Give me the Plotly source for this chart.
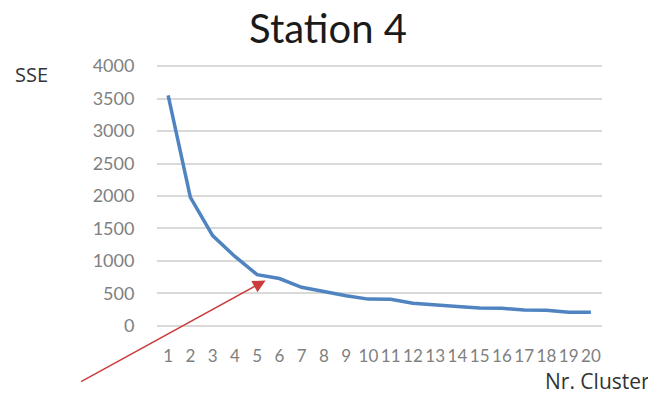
import plotly.graph_objects as go

clusters = [str(i) for i in range(1, 21)]
sse = [3550, 1980, 1390, 1070, 790, 730, 595, 525, 465, 413,
       410, 350, 320, 300, 275, 272, 245, 242, 212, 210]
y_ticks = [0, 500, 1000, 1500, 2000, 2500, 3000, 3500, 4000]

fig = go.Figure()
fig.add_trace(go.Scatter(
    x=clusters, y=sse, mode="lines",
    line=dict(color="#4f84c0", width=3.5),
    showlegend=False,
))

# the page body adds an 8px offset, so the figure is 8px smaller than the window
fig.update_layout(
    template="none",
    width=648, height=386,
    margin=dict(l=149, r=54, t=57, b=67, autoexpand=False),
    paper_bgcolor="white", plot_bgcolor="white",
    font=dict(family="Lato, Open Sans, sans-serif", color="#808080"),
    title=dict(text="Station 4", x=320 / 648, xanchor="center", xref="container",
               y=1 - 21 / 386, yref="container", yanchor="middle",
               font=dict(size=40, color="#1a1a1a", family="Lato, Open Sans, sans-serif")),
)
fig.update_xaxes(
    type="category", range=[-0.5, 19.5], autorange=False,
    tickmode="array", tickvals=clusters, ticktext=clusters,
    showgrid=False, showline=False, zeroline=False, automargin=False,
    tickfont=dict(size=17, color="#808080"), tickangle=0,
    ticks="outside", ticklen=14, tickcolor="rgba(0,0,0,0)",
)
fig.update_yaxes(
    range=[-16, 4016], autorange=False, tickvals=y_ticks, showgrid=True,
    gridcolor="#d9d9d9", gridwidth=2,
    zeroline=False, showline=False, automargin=False,
    tickfont=dict(size=18, color="#808080"),
    ticks="outside", ticklen=18, tickcolor="rgba(0,0,0,0)",
)

fig.add_annotation(text="SSE", xref="paper", yref="paper", x=(32 - 157) / 445, y=(327 - 75) / 262,
                   xanchor="center", yanchor="middle", showarrow=False,
                   font=dict(size=20, color="#333333", family="Open Sans, sans-serif"))
fig.add_annotation(text="Nr. Cluster", xref="paper", yref="paper", x=(652 - 157) / 445,
                   y=(327 - 381) / 262, xanchor="right", yanchor="middle", showarrow=False,
                   font=dict(size=21, color="#333333", family="Open Sans, sans-serif"))
fig.add_annotation(x=4.38, y=700, xref="x", yref="y", text="", showarrow=True,
                   ax=-186, ay=102, axref="pixel", ayref="pixel",
                   arrowhead=2, arrowsize=1.7, arrowwidth=1.5, arrowcolor="#cc3b3b")

fig.write_html("out.html")
